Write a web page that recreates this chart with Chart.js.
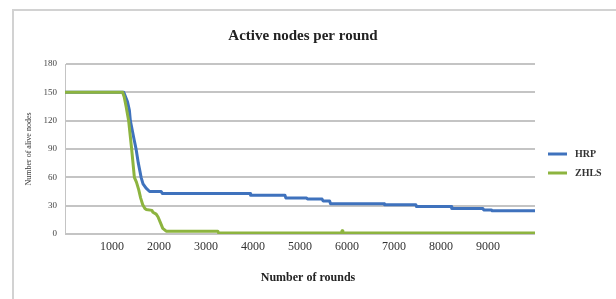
<!DOCTYPE html>
<html>
<head>
<meta charset="utf-8">
<script src="https://cdn.jsdelivr.net/npm/chart.js@4/dist/chart.umd.min.js"></script>
<style>
  html, body { margin: 0; padding: 0; background: #ffffff; overflow: hidden; }
  #wrap { width: 616px; height: 299px; position: relative; }
  canvas { display: block; }
</style>
</head>
<body>
<div id="wrap"><canvas id="c" width="616" height="299"></canvas></div>
<script>
// ---- data ----
const chartTitle = "Active nodes per round";
const xAxisTitle = "Number of rounds";
const yAxisTitle = "Number of alive nodes";
const seriesNames = ["HRP", "ZHLS"];
const xTickValues = [1000, 2000, 3000, 4000, 5000, 6000, 7000, 8000, 9000];

const hrpRounds = [0, 1250, 1330, 1370, 1390, 1430, 1470, 1512, 1560, 1600, 1619, 1660, 1725, 1800, 2046, 2070,
  3940, 3950, 4680, 4700, 5140, 5160, 5470, 5490, 5630, 5650, 6790, 6800, 7465, 7480, 8214, 8230, 8892, 8910, 9070, 9090, 10000];
const hrpNodes = [150, 150, 140, 131, 120, 110, 100, 90, 75, 65, 60, 53, 48.5, 45, 45, 43,
  43, 41, 41, 38, 38, 37, 37, 35, 35, 32, 32, 31, 31, 29, 29, 27, 27, 25.5, 25.5, 24.5, 24.5];

const zhlsRounds = [0, 1226, 1260, 1300, 1354, 1418, 1476, 1520, 1568, 1610, 1654, 1700, 1725, 1850, 1870, 1940,
  1980, 2030, 2080, 2153, 3251, 3270, 5880, 5896, 5912, 10000];
const zhlsNodes = [150, 150, 145, 135, 120, 90, 60, 55, 47, 38, 31, 27, 26, 25, 23, 21,
  18, 12, 6, 3, 3, 1, 1, 3.5, 1, 1];

const seriesColors = ["#3f72bd", "#8db43f"];

function toPoints(xs, ys) { return xs.map((x, i) => ({ x: x, y: ys[i] })); }

const SERIF = "'Liberation Serif', 'DejaVu Serif', serif";

const decorPlugin = {
  id: 'decor',
  beforeDraw(chart) {
    const ctx = chart.ctx;
    ctx.save();
    ctx.fillStyle = '#ffffff';
    ctx.fillRect(0, 0, chart.width, chart.height);
    ctx.strokeStyle = '#d2d2d2';
    ctx.lineWidth = 2;
    ctx.strokeRect(13, 10, 700, 400);
    ctx.restore();
  },
  afterDraw(chart) {
    const ctx = chart.ctx;
    ctx.save();
    ctx.fillStyle = '#222222';
    ctx.font = "bold 15px " + SERIF;
    ctx.textAlign = 'center';
    ctx.textBaseline = 'middle';
    ctx.fillText(chartTitle, 303, 36);
    ctx.font = "bold 12px " + SERIF;
    ctx.fillText(xAxisTitle, 308, 278);
    ctx.font = "bold 10px " + SERIF;
    ctx.textAlign = 'left';
    const ys = [154, 173];
    chart.data.datasets.forEach((ds, i) => {
      ctx.strokeStyle = ds.borderColor;
      ctx.lineWidth = 3;
      ctx.beginPath();
      ctx.moveTo(548, ys[i]);
      ctx.lineTo(567, ys[i]);
      ctx.stroke();
      ctx.fillStyle = '#333333';
      ctx.fillText(ds.label, 575, ys[i] + 0.5);
    });
    ctx.restore();
  }
};

new Chart(document.getElementById('c'), {
  type: 'line',
  data: {
    datasets: [
      { label: seriesNames[0], data: toPoints(hrpRounds, hrpNodes), borderColor: seriesColors[0],
        backgroundColor: seriesColors[0], borderWidth: 3, pointRadius: 0, tension: 0, order: 2,
        borderJoinStyle: 'round', borderCapStyle: 'round' },
      { label: seriesNames[1], data: toPoints(zhlsRounds, zhlsNodes), borderColor: seriesColors[1],
        backgroundColor: seriesColors[1], borderWidth: 3, pointRadius: 0, tension: 0, order: 1,
        borderJoinStyle: 'round', borderCapStyle: 'round' }
    ]
  },
  options: {
    responsive: false,
    animation: false,
    maintainAspectRatio: false,
    devicePixelRatio: 1,
    layout: { padding: { left: 15, top: 64, right: 81, bottom: 0 } },
    plugins: {
      legend: { display: false },
      title: { display: false },
      tooltip: { enabled: false }
    },
    scales: {
      x: {
        type: 'linear',
        min: 0,
        max: 10000,
        afterFit(axis) { axis.height = 65; },
        afterBuildTicks(axis) { axis.ticks = xTickValues.map(v => ({ value: v })); },
        grid: { display: false, drawTicks: false },
        border: { display: false },
        ticks: {
          padding: 6,
          color: '#333333',
          font: { family: SERIF, size: 12 },
          maxRotation: 0,
          autoSkip: false,
          callback: (v) => String(v)
        },
        title: { display: false }
      },
      y: {
        min: 0,
        max: 180,
        afterFit(axis) { axis.width = 50; },
        grid: { color: '#c4c4c4', lineWidth: 2, drawTicks: false },
        border: { display: true, color: '#c4c4c4', width: 1 },
        ticks: {
          stepSize: 30,
          padding: 8,
          color: '#444444',
          font: { family: SERIF, size: 9 }
        },
        title: {
          display: true,
          text: yAxisTitle,
          color: '#333333',
          font: { family: SERIF, size: 8 },
          padding: { top: 9, bottom: 0 }
        }
      }
    }
  },
  plugins: [decorPlugin]
});
</script>
</body>
</html>
